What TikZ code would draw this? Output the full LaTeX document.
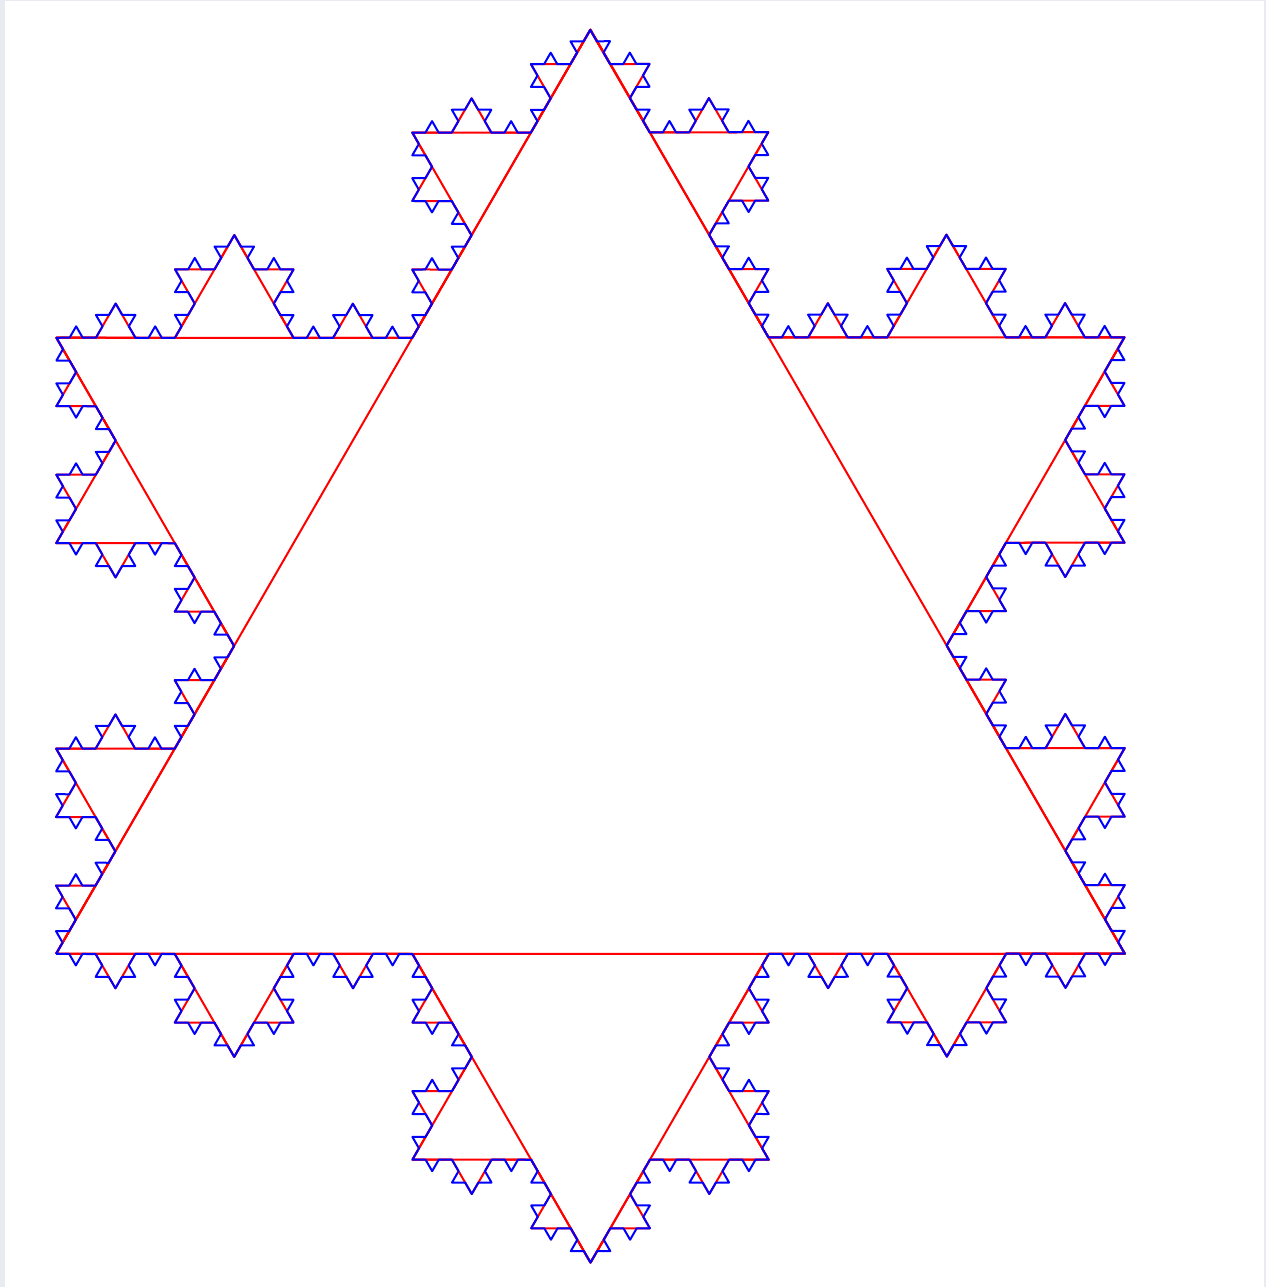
\documentclass[tikz,border=0pt]{standalone}
\usetikzlibrary{decorations.fractals}
\definecolor{edgegray}{RGB}{232,236,240}
\definecolor{kred}{RGB}{255,0,0}
\definecolor{kblue}{RGB}{0,0,255}
\tikzset{
  redlevel/.style={draw=kred, line width=2pt, line join=round, decoration=Koch snowflake},
  bluelevel/.style={draw=kblue, line width=2pt, line join=round, decoration=Koch snowflake}
}
\begin{document}
\begin{tikzpicture}[x=1pt,y=1pt]
\useasboundingbox[fill=white] (0,0) rectangle (1266,1287);
\fill[edgegray] (0,0) rectangle (5,1287);
\fill[edgegray] (1263.5,0) rectangle (1266,1287);
\fill[edgegray] (0,1286) rectangle (1266,1287);
\coordinate (A) at (56,333);
\coordinate (B) at (1125,333);
\coordinate (C) at (590.5,1257.5);
% levels 0-3 in red
\path[redlevel] (A) -- (C) -- (B) -- (A);
\path[redlevel] decorate{(A) -- (C) -- (B) -- (A)};
\path[redlevel] decorate{decorate{(A) -- (C) -- (B) -- (A)}};
\path[redlevel] decorate{decorate{decorate{(A) -- (C) -- (B) -- (A)}}};
% level 4 in blue
\path[bluelevel] decorate{decorate{decorate{decorate{(A) -- (C) -- (B) -- (A)}}}};
\end{tikzpicture}
\end{document}
